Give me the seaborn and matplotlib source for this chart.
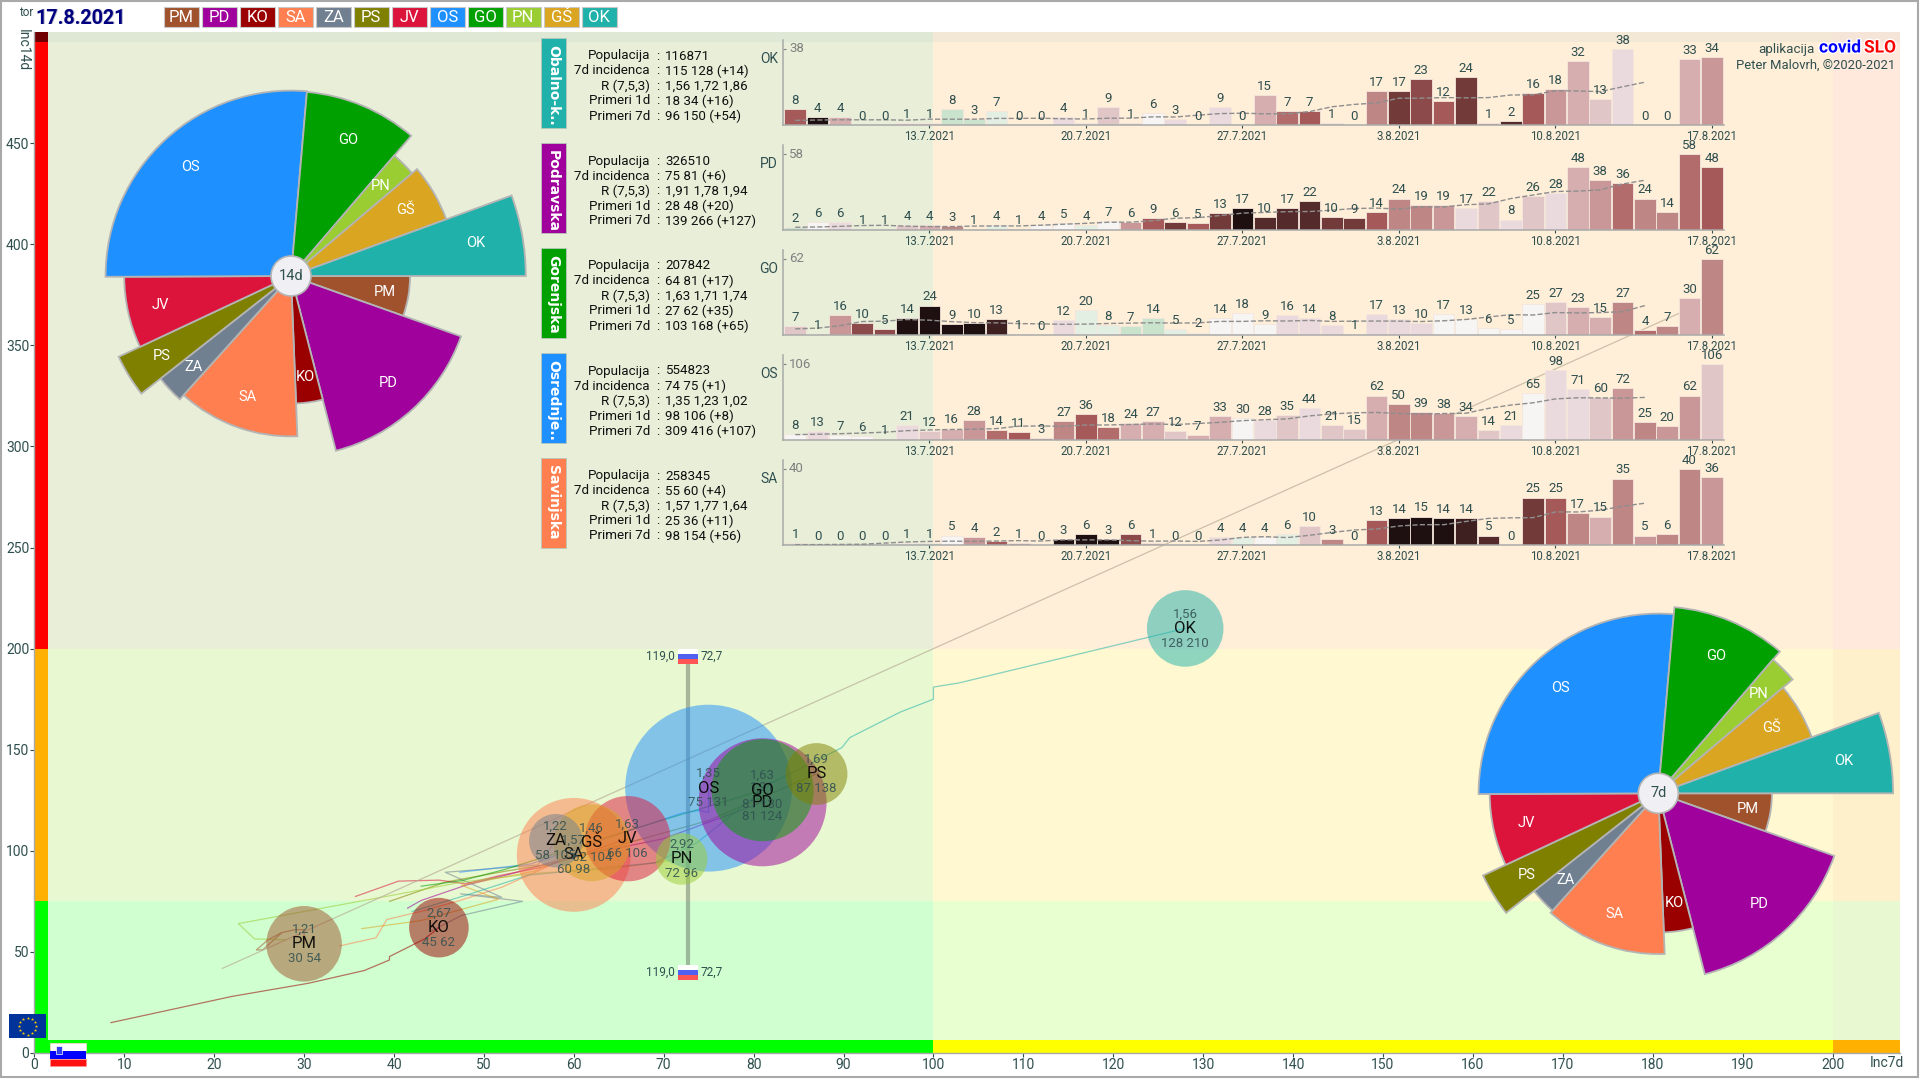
import numpy as np
import pandas as pd
import matplotlib
matplotlib.use("Agg")
import matplotlib.pyplot as plt
from matplotlib.patches import Rectangle, Wedge, Circle
import matplotlib.patheffects as pe
import seaborn as sns

# ---------- data ----------
CODES = ["PM", "PD", "KO", "SA", "ZA", "PS", "JV", "OS", "GO", "PN", "GŠ", "OK"]
COLORS = ["#A0522D", "#A0009C", "#9B0000", "#FF7F50", "#708090", "#808000",
          "#DC143C", "#1E90FF", "#00A000", "#9ACD32", "#DAA520", "#20B2AA"]
POPULATION = [114000, 326510, 70800, 258345, 57000, 76000, 145000, 554823, 207842, 53000, 118000, 116871]
INC7 = [30, 81, 45, 60, 58, 87, 66, 75, 81, 72, 62, 128]
INC14 = [54, 124, 62, 98, 105, 138, 106, 131, 130, 96, 104, 210]
R_TXT = ["1,21", "1,91", "2,67", "1,57", "1,22", "1,69", "1,63", "1,35", "1,63", "2,92", "1,46", "1,56"]

TRAIL_PM = ([27.5, 25.4, 24.7, 26, 27.5, 29, 30, 30], [59.4, 51, 51, 56, 59.5, 61, 61, 54])
TRAIL_PD = ([41.5, 43, 48, 53, 58.9, 70, 81], [71.6, 75.4, 83, 88.6, 96, 106, 124])
TRAIL_KO = ([8.5, 22, 30.5, 36.7, 39.5, 39.5, 43.4, 45], [15, 28, 34.5, 40.8, 46, 47.7, 56.4, 62])
TRAIL_SA = ([34, 38, 39.2, 43.4, 47.3, 52, 60], [53, 57, 66, 70.5, 75.4, 82, 98])
TRAIL_ZA = ([44, 47.5, 54.3, 47.4, 52, 45.7, 56, 58], [60, 68, 75, 78.7, 77, 89.4, 93, 105])
TRAIL_PS = ([39.5, 45.7, 52.5, 57.5, 75, 87], [75, 84.5, 90, 93.5, 115, 138])
TRAIL_JV = ([35.7, 40.5, 45, 48, 51.8, 56.6, 66], [77.4, 85, 85.5, 83.7, 87.8, 92, 106])
TRAIL_OS = ([47.3, 55.2, 72, 74, 75, 75], [89.4, 93.5, 118.6, 120, 119, 131])
TRAIL_GO = ([43, 47.6, 52.5, 66, 81], [82.5, 85.3, 91, 110, 130])
TRAIL_PN = ([28, 24.5, 22.7, 39.8, 47.5, 56, 64, 72], [56, 56.4, 64, 78, 84.5, 89, 91, 96])
TRAIL_GS = ([36.4, 43, 51.6, 47.5, 55.7, 62], [61.5, 65.5, 76, 83, 90, 104])
TRAIL_OK = ([42, 48, 55, 69, 73.7, 82, 89.8, 90.7, 96.3, 100, 100, 102.8, 128],
            [70, 78, 88, 94, 104, 133.5, 151, 156, 168.6, 175, 181, 183, 210])
TRAILS = [TRAIL_PM, TRAIL_PD, TRAIL_KO, TRAIL_SA, TRAIL_ZA, TRAIL_PS, TRAIL_JV, TRAIL_OS,
          TRAIL_GO, TRAIL_PN, TRAIL_GS, TRAIL_OK]
REF_X = [20.9, 185]
REF_Y = [41.8, 370]
SLO_INC7 = 72.7
SLO_TOP = 196
SLO_BOTTOM = 40
SLO_L = "119,0"
SLO_R = "72,7"

DAILY_OK = [8, 4, 4, 0, 0, 1, 1, 8, 3, 7, 0, 0, 4, 1, 9, 1, 6, 3, 0, 9, 0,
            15, 7, 7, 1, 0, 17, 17, 23, 12, 24, 1, 2, 16, 18, 32, 13, 38, 0, 0, 33, 34]
DAILY_PD = [2, 6, 6, 1, 1, 4, 4, 3, 1, 4, 1, 4, 5, 4, 7, 6, 9, 6, 5, 13, 17,
            10, 17, 22, 10, 9, 14, 24, 19, 19, 17, 22, 8, 26, 28, 48, 38, 36, 24, 14, 58, 48]
DAILY_GO = [7, 1, 16, 10, 5, 14, 24, 9, 10, 13, 1, 0, 12, 20, 8, 7, 14, 5, 2, 14, 18,
            9, 16, 14, 8, 1, 17, 13, 10, 17, 13, 6, 5, 25, 27, 23, 15, 27, 4, 7, 30, 62]
DAILY_OS = [8, 13, 7, 6, 1, 21, 12, 16, 28, 14, 11, 3, 27, 36, 18, 24, 27, 12, 7, 33, 30,
            28, 35, 44, 21, 15, 62, 50, 39, 38, 34, 14, 21, 65, 98, 71, 60, 72, 25, 20, 62, 106]
DAILY_SA = [1, 0, 0, 0, 0, 1, 1, 5, 4, 2, 1, 0, 3, 6, 3, 6, 1, 0, 0, 4, 4,
            4, 6, 10, 3, 0, 13, 14, 15, 14, 14, 5, 0, 25, 25, 17, 15, 35, 5, 6, 40, 36]

TONE_OK = [7, 12, 3, 0, 0, 1, 1, -2, -2, -1, 0, 0, 1, 1, 2, 2, 0, 1, 0, 1, 0,
           3, 6, 7, 2, 0, 5, 9, 8, 7, 9, 4, 10, 7, 4, 3, 2, 1, 0, 0, 3, 4]
TONE_PD = [-2, 0, 1, 1, 1, 2, 3, 5, 1, -1, 0, 0, 0, -1, 0, 4, 7, 9, 7, 9, 12,
           10, 10, 10, 9, 9, 7, 5, 5, 4, 1, 2, 1, 2, 1, 3, 4, 6, 5, 5, 6, 7]
TONE_GO = [2, 1, 4, 8, 8, 12, 12, 12, 12, 11, 1, 0, 1, -1, -1, -2, -2, -1, -1, 0, 0,
           0, 1, 1, 1, 0, 1, 1, 1, 0, 0, 0, 0, 0, 2, 3, 3, 5, 6, 5, 3, 5]
TONE_OS = [0, 1, 0, 0, -1, 1, 2, 3, 4, 6, 7, 4, 5, 7, 6, 3, 3, 2, 3, 3, 0,
           1, 2, 1, 2, 2, 3, 5, 5, 4, 3, 2, 1, 0, 1, 1, 2, 4, 5, 4, 4, 2]
TONE_SA = [-2, 0, 0, 0, 0, -1, -2, 0, 4, 7, 4, 0, 12, 12, 12, 8, 3, 0, 0, 1, -1,
           0, -1, 2, 5, 0, 7, 12, 12, 12, 11, 10, 0, 9, 7, 5, 3, 5, 4, 5, 5, 4]

AVG_OK = [2.3, 2.5, 2.6, 2.6, 2.6, 2.4, 2.9, 2.9, 2.9, 3.3, 3.3, 3.4, 3.1, 3, 3.4, 3.4, 4.1, 4, 4.9, 5.7,
          5.9, 5.6, 5.6, 6.7, 9.1, 10.3, 11, 13.4, 13.4, 13.7, 13.6, 13.7, 15, 15.1, 17.1, 17, 16.7, 19.1, 21.4]
AVG_PD = [2.1, 2.3, 2.8, 3.4, 3.6, 2.9, 2.6, 2.6, 3, 3.1, 3.1, 3.7, 4.4, 5.1, 5.9, 6, 7.1, 9, 9.4, 11,
          12.9, 13.4, 14, 14.1, 15.1, 16.4, 16.7, 16, 17.7, 17.6, 19.3, 19.9, 24, 26.7, 29.4, 29.7, 30.6, 35.1, 38]
AVG_GO = [5, 5.6, 7.6, 11, 11.3, 12.6, 12.1, 10.9, 10.1, 9.9, 9.3, 9.1, 8.7, 8.9, 9.4, 9.7, 10, 9.7, 9.9, 11.1,
          11.1, 11.6, 11.4, 11.9, 11.1, 11.3, 11.4, 11.3, 11, 11.6, 12.7, 14.7, 16.6, 16.3, 18.3, 18, 18.3, 19, 24]
AVG_OS = [7.5, 8, 8.8, 9.7, 10.9, 13, 14, 14.7, 15, 15.9, 19.3, 19.6, 19, 20.9, 21, 21.6, 22.4, 21.6, 23, 24.6,
          27, 28.3, 29.4, 33.6, 36.4, 38, 38.4, 37, 36, 36.9, 37.3, 44.1, 48.7, 51.9, 57.3, 58.9, 58.7, 58.3, 59.4]
AVG_SA = [0.2, 0.2, 0.3, 0.4, 1, 1.6, 1.9, 2, 1.9, 2.1, 2.3, 2.1, 2.7, 2.7, 2.7, 2.3, 2, 2.1, 1.9, 2.6,
          4, 4.4, 3.9, 5.1, 6.6, 7.9, 8.4, 10, 10.7, 10.7, 12.4, 14, 14.3, 14.4, 17.4, 17.4, 18.3, 20.4, 22]

DATE_TICKS = [6, 13, 20, 27, 34, 41]
DATE_LABELS = ["13.7.2021", "20.7.2021", "27.7.2021", "3.8.2021", "10.8.2021", "17.8.2021"]

PANEL_CODES = ["OK", "PD", "GO", "OS", "SA"]
PANEL_NAMES = ["Obalno-k..", "Podravska", "Gorenjska", "Osrednje..", "Savinjska"]
PANEL_COLORS = ["#20B2AA", "#A0009C", "#00A000", "#1E90FF", "#FF7F50"]
PANEL_DAILY = [DAILY_OK, DAILY_PD, DAILY_GO, DAILY_OS, DAILY_SA]
PANEL_TONE = [TONE_OK, TONE_PD, TONE_GO, TONE_OS, TONE_SA]
PANEL_AVG = [AVG_OK, AVG_PD, AVG_GO, AVG_OS, AVG_SA]
INFO_LABELS = ["Populacija", "7d incidenca", "R (7,5,3)", "Primeri 1d", "Primeri 7d"]
INFO_OK = ["116871", "115 128 (+14)", "1,56 1,72 1,86", "18 34 (+16)", "96 150 (+54)"]
INFO_PD = ["326510", "75 81 (+6)", "1,91 1,78 1,94", "28 48 (+20)", "139 266 (+127)"]
INFO_GO = ["207842", "64 81 (+17)", "1,63 1,71 1,74", "27 62 (+35)", "103 168 (+65)"]
INFO_OS = ["554823", "74 75 (+1)", "1,35 1,23 1,02", "98 106 (+8)", "309 416 (+107)"]
INFO_SA = ["258345", "55 60 (+4)", "1,57 1,77 1,64", "25 36 (+11)", "98 154 (+56)"]
PANEL_INFO = [INFO_OK, INFO_PD, INFO_GO, INFO_OS, INFO_SA]

# ---------- style ----------
W, H = 1920, 1080
BASE_FONT = ["Roboto", "DejaVu Sans"]
DARK = "#2F4F4F"
TONE_PALETTE = ["#C9E3CC", "#E3EFE3", "#F7F5F3", "#EBDADD", "#E1C6C8", "#D6AEB0", "#C99797", "#BF8686",
                "#B26C6C", "#A65959", "#8C4A4A", "#733A3A", "#552A2A", "#3E2020", "#1E1010"]
sns.set_theme(style="white")
plt.rcParams["font.family"] = BASE_FONT
plt.rcParams["axes.unicode_minus"] = False

fig = plt.figure(figsize=(W / 100, H / 100), dpi=100, facecolor="white")


def axes_px(l, t, r, b):
    a = fig.add_axes([l / W, 1 - b / H, (r - l) / W, (b - t) / H])
    a.patch.set_alpha(0)
    return a


def ftext(x, y, s, **kw):
    kw.setdefault("va", "center")
    return fig.text(x / W, 1 - y / H, s, **kw)


def frect(l, t, r, b, **kw):
    p = Rectangle((l / W, 1 - b / H), (r - l) / W, (b - t) / H, transform=fig.transFigure, **kw)
    fig.add_artist(p)
    return p


# ---------- main scatter ----------
ax = axes_px(34.3, 32, 1900, 1053)
ax.set_xlim(0, 207.5)
ax.set_ylim(0, 505)
XB = [0, 100, 200, 207.5]
YB = [0, 75, 200, 500, 505]
BG = [["#D0FFD0", "#E8FFD0", "#E8F8D0"],
      ["#E8F8D0", "#FFF8D0", "#FFF0CC"],
      ["#E8EED8", "#FFEED8", "#FFE8DC"],
      ["#DFE8D5", "#F3E8D5", "#F5E5D8"]]
for j in range(4):
    for i in range(3):
        ax.add_patch(Rectangle((XB[i], YB[j]), XB[i + 1] - XB[i], YB[j + 1] - YB[j],
                               fc=BG[j][i], ec="none", zorder=0))
for y0, y1, c in [(0, 75, "#00FF00"), (75, 200, "#FFB000"), (200, 500, "#FF0000"), (500, 505, "#700000")]:
    ax.add_patch(Rectangle((0, y0), 1.55, y1 - y0, fc=c, ec="none", zorder=1))
for x0, x1, c in [(0, 100, "#00FF00"), (100, 200, "#FFFF00"), (200, 207.5, "#FFB000")]:
    ax.add_patch(Rectangle((x0, 0), x1 - x0, 6.6, fc=c, ec="none", zorder=1))

trail_df = pd.concat([pd.DataFrame({"code": c, "x": t[0], "y": t[1], "k": range(len(t[0]))})
                      for c, t in zip(CODES, TRAILS)])
palette = dict(zip(CODES, COLORS))
sns.lineplot(data=trail_df, x="x", y="y", hue="code", palette=palette, sort=False, estimator=None,
             units="code", linewidth=0.9, alpha=0.55, legend=False, ax=ax, zorder=2)
sns.lineplot(x=REF_X, y=REF_Y, color="#B8AE98", linewidth=0.9, alpha=0.7, ax=ax, zorder=2)
ax.plot([SLO_INC7, SLO_INC7], [SLO_BOTTOM, SLO_TOP], color="#708070", lw=3, alpha=0.55, zorder=3)

bub = pd.DataFrame({"code": CODES, "x": INC7, "y": INC14, "pop": POPULATION})
bub = bub.sort_values("pop", ascending=False)
k_pts = 0.112 * 0.72 * 2
sns.scatterplot(data=bub, x="x", y="y", hue="code", palette=palette, size="pop",
                sizes=(k_pts ** 2 * bub["pop"].min(), k_pts ** 2 * bub["pop"].max()),
                size_norm=(bub["pop"].min(), bub["pop"].max()),
                alpha=0.5, linewidth=0, legend=False, ax=ax, zorder=4)
for c, x, y, r in zip(CODES, INC7, INC14, R_TXT):
    ax.annotate(r, (x, y), xytext=(0, 10.5), textcoords="offset points", ha="center", va="center",
                fontsize=9.5, color=DARK, alpha=0.85, zorder=5)
    ax.annotate(c, (x, y), ha="center", va="center", fontsize=12, color="black", alpha=0.9, zorder=5)
    ax.annotate(f"{x} {y}", (x, y), xytext=(0, -10.5), textcoords="offset points", ha="center", va="center",
                fontsize=9.5, color=DARK, alpha=0.85, zorder=5)

ax.set_xticks(np.arange(0, 201, 10))
ax.set_yticks(np.arange(0, 451, 50))
ax.set_xlabel("")
ax.set_ylabel("")
ax.tick_params(axis="both", length=3, width=0.8, color=DARK, labelcolor=DARK, labelsize=10, pad=0.5,
               left=True, bottom=True)
for s in ["top", "right"]:
    ax.spines[s].set_visible(False)
for s in ["left", "bottom"]:
    ax.spines[s].set_color("#A9A9A9")
    ax.spines[s].set_linewidth(1)
ftext(1887, 1063, "Inc7d", ha="center", color=DARK, fontsize=10)
ftext(23, 50, "Inc14d", ha="center", color=DARK, fontsize=10, rotation=270)

# national marker
for ytop in (648.5, 964.5):
    frect(678, ytop, 698, ytop + 5, fc="white", ec="none", zorder=6)
    frect(678, ytop + 5, 698, ytop + 10, fc="#5060F0", ec="none", zorder=6)
    frect(678, ytop + 10, 698, ytop + 15, fc="#FF5555", ec="none", zorder=6)
    ftext(675, ytop + 7.5, SLO_L, ha="right", color=DARK, fontsize=8.5)
    ftext(701, ytop + 7.5, SLO_R, ha="left", color=DARK, fontsize=8.5)

# ---------- flags ----------
frect(9, 1014, 46, 1038, fc="#003399", ec="none", zorder=6)
star_ax = axes_px(9, 1014, 46, 1038)
star_ax.axis("off")
star_ax.set_xlim(-18.5, 18.5)
star_ax.set_ylim(-12, 12)
star_ax.set_zorder(7)
ang = np.deg2rad(np.arange(0, 360, 30))
star_ax.scatter(8.5 * np.cos(ang), 8.5 * np.sin(ang), marker="*", s=6, color="#FFCC00", linewidths=0)
frect(50, 1042.5, 86, 1050.5, fc="white", ec="#FFD0D0", lw=0.5, zorder=6)
frect(50, 1050.5, 86, 1058.5, fc="#0000FF", ec="none", zorder=6)
frect(50, 1058.5, 86, 1066, fc="#FF1010", ec="#FF9090", lw=0.5, zorder=6)
frect(56, 1046, 62, 1054, fc="#3040F0", ec="white", lw=0.5, zorder=7)

# ---------- pies ----------
def draw_pie(cx, cy, inc, k, label):
    a = axes_px(cx - 250, cy - 250, cx + 250, cy + 250)
    a.set_xlim(-250, 250)
    a.set_ylim(-250, 250)
    a.axis("off")
    a.set_zorder(8)
    total = sum(POPULATION)
    start = 0.0
    for c, col, p, v in zip(CODES, COLORS, POPULATION, inc):
        span = 360.0 * p / total
        rad = k * np.sqrt(v)
        a.add_patch(Wedge((0, 0), rad, -(start + span), -start, fc=col, ec="#B4B4B4", lw=1.3))
        mid = np.deg2rad(-(start + span / 2))
        a.text(0.8 * rad * np.cos(mid), 0.8 * rad * np.sin(mid), c, color="white", ha="center", va="center",
               fontsize=10.5)
        start += span
    a.add_patch(Circle((0, 0), 20, fc="#F0F0F4", ec="#B4B4B4", lw=1.2, zorder=5))
    a.text(0, 0, label, ha="center", va="center", color=DARK, fontsize=10.5, zorder=6)


draw_pie(291, 276, INC14, 16.2, "14d")
draw_pie(1658.3, 793.3, INC7, 20.75, "7d")

# ---------- bar panels ----------
DAY_IDX = np.arange(42)
AX_L, AX_R = 783.4, 1723.5
PITCH = (1712 - 929.4) / 35
for n, (code, name, col, daily, tone, avg, info) in enumerate(
        zip(PANEL_CODES, PANEL_NAMES, PANEL_COLORS, PANEL_DAILY, PANEL_TONE, PANEL_AVG, PANEL_INFO)):
    base = 125 + 105 * n
    a = axes_px(AX_L, base - 85, AX_R, base)
    cols = [TONE_PALETTE[t + 2] for t in tone]
    sns.barplot(x=DAY_IDX, y=daily, hue=DAY_IDX, palette=cols, dodge=False, legend=False, saturation=1,
                width=0.97, edgecolor="#F4E6DC", linewidth=0.6, ax=a)
    sns.lineplot(x=np.arange(len(avg)), y=avg, color="#8E8E8E", linewidth=1, linestyle="--", ax=a, zorder=5)
    top = max(daily)
    a.set_xlim((AX_L - 795.2) / PITCH, (AX_R - 795.2) / PITCH)
    a.set_ylim(0, top * 85 / 76)
    for i, v in zip(DAY_IDX, daily):
        a.annotate(str(v), (i, v), xytext=(0, 1.5), textcoords="offset points", ha="center", va="bottom",
                   fontsize=9.5, color=DARK, zorder=6)
    a.set_xticks(DATE_TICKS)
    a.set_xticklabels(DATE_LABELS)
    a.set_yticks([top])
    a.set_yticklabels([str(top)])
    a.set_xlabel("")
    a.set_ylabel("")
    a.tick_params(axis="x", length=2.5, width=0.8, color=DARK, labelcolor=DARK, labelsize=8.3, pad=1, bottom=True)
    a.tick_params(axis="y", direction="in", length=2.5, width=0.8, color="#808080", labelcolor="#808080",
                  labelsize=9.5, left=True, labelleft=False, right=False, labelright=False)
    a.annotate(str(top), (0, top), xycoords=("axes fraction", "data"), xytext=(4, 0),
               textcoords="offset points", va="center", ha="left", color="#808080", fontsize=9.5)
    for s in ["top", "right"]:
        a.spines[s].set_visible(False)
    for s in ["left", "bottom"]:
        a.spines[s].set_color("#A9A9A9")
        a.spines[s].set_linewidth(1.1)
    ftext(778, base - 66, code, ha="right", color=DARK, fontsize=10)

    top_px = 38 + 105 * n
    frect(540.5, top_px, 565.5, top_px + 90, fc=col, ec="#B8C8B8", lw=0.6, zorder=3)
    ftext(553, top_px + 7, name, rotation=270, ha="center", va="top", color="white", fontsize=10,
          fontweight="bold", family=["DejaVu Sans"], zorder=4)
    for r, (lab, val) in enumerate(zip(INFO_LABELS, info)):
        y = top_px + 18 + 15 * r
        ftext(650, y, lab, ha="right", color="#101010", fontsize=9.6)
        ftext(658, y, ":", ha="center", color="#101010", fontsize=9.6)
        ftext(665, y, val, ha="left", color="#101010", fontsize=9.6)

# ---------- header ----------
ftext(19, 12, "tor", color=DARK, fontsize=8.5, ha="left")
ftext(36, 19, "17.8.2021", color="#B8B8C8", fontsize=14.2, fontweight="bold", ha="left")
ftext(35, 18, "17.8.2021", color="#000080", fontsize=14.2, fontweight="bold", ha="left")
for i, (c, col) in enumerate(zip(CODES, COLORS)):
    l = 163.5 + 38 * i
    frect(l, 7.5, l + 35.5, 27, fc=col, ec="#C8C8C8", lw=0.8)
    ftext(l + 17.7, 17.5, c, ha="center", color="white", fontsize=12)

ftext(1815, 49, "aplikacija", ha="right", color=DARK, fontsize=9.6)
shadow = [pe.withStroke(linewidth=2, foreground="white")]
ftext(1819, 48, "covid", ha="left", color="#0000FF", fontsize=12.5, fontweight="bold", path_effects=shadow)
ftext(1864, 48, "SLO", ha="left", color="#FF0000", fontsize=12.5, fontweight="bold", path_effects=shadow)
ftext(1895, 65.5, "Peter Malovrh, ©2020-2021", ha="right", color=DARK, fontsize=9.4)

# outer frame
frect(1, 1, 1918, 1077, fc="none", ec="#A9A9A9", lw=1.5, zorder=20)

fig.savefig("out.png", dpi=100, facecolor="white")
